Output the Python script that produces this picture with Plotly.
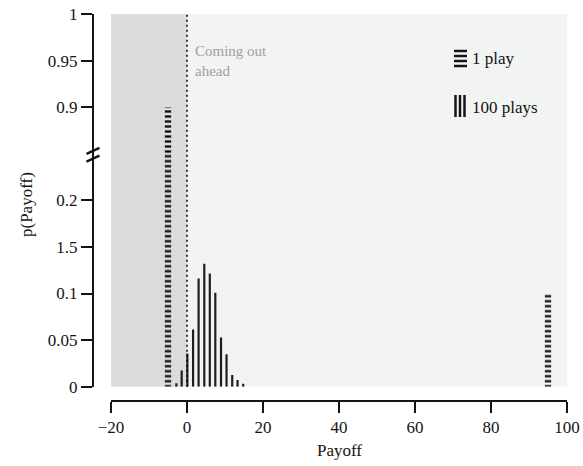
import plotly.graph_objects as go

# ---------------- data ----------------
one_play_x = [-5, 95]
one_play_p = [0.9, 0.1]

hundred_x = [-2.8, -1.4, 0.1, 1.6, 3.05, 4.55, 6.0, 7.45, 8.95, 10.4, 11.9, 13.3, 14.8]
hundred_p = [0.0036, 0.0175, 0.0357, 0.0614, 0.116, 0.132, 0.1215, 0.1007,
             0.0529, 0.0347, 0.0125, 0.0071, 0.0032]

x_ticks = [-20, 0, 20, 40, 60, 80, 100]
x_ticktext = ["\u221220", "0", "20", "40", "60", "80", "100"]
low_ticks = [0, 0.05, 0.1, 0.15, 0.2]
low_ticktext = ["0", "0.05", "0.1", "1.5", "0.2"]
up_ticks = [0.9, 0.95, 1]
up_ticktext = ["0.9", "0.95", "1"]

# ---------------- layout geometry ----------------
W, H = 583, 466
ML, MR, MT, MB = 93, 16, 14, 65
PW, PH = W - ML - MR, H - MT - MB
FONT = "Liberation Serif, Times New Roman, serif"
INK = "#141414"

def px(xp):
    return (xp - ML) / PW

def py(yp):
    return (H - MB - yp) / PH

x_dom0 = px(111)
low_dom = [py(386.7), py(153.7)]
up_dom = [py(153.7), 1.0]

fig = go.Figure()

# 100 plays (thin solid bars)
fig.add_trace(go.Bar(x=hundred_x, y=hundred_p, width=0.58,
                     marker=dict(color="#1e1e1e", line=dict(width=0)),
                     xaxis="x", yaxis="y", showlegend=False))
# 1 play (hatched bars) - lower and upper segments of the broken axis
for ya in ["y", "y2"]:
    fig.add_trace(go.Bar(x=one_play_x, y=one_play_p, width=1.66,
                         marker=dict(color="#0a0a0a", line=dict(width=0),
                                     pattern=dict(shape="-", size=5, solidity=0.45,
                                                  fillmode="replace")),
                         xaxis="x", yaxis=ya, showlegend=False))

shapes = []
# backgrounds (light: coming out ahead, dark: losing side), spanning the break
shapes.append(dict(type="rect", xref="x", yref="paper", x0=0, x1=100,
                   y0=low_dom[0], y1=1, fillcolor="#f2f3f3", line=dict(width=0),
                   layer="below"))
shapes.append(dict(type="rect", xref="x", yref="paper", x0=-20, x1=0,
                   y0=low_dom[0], y1=1, fillcolor="#dcdcdf", line=dict(width=0),
                   layer="below"))
# dotted line at 0
shapes.append(dict(type="line", xref="x", yref="paper", x0=0, x1=0,
                   y0=low_dom[0], y1=1,
                   line=dict(color="black", width=1.5, dash="2px,3px"), layer="above"))

# axis break slashes
for yc in [150.8, 158.6]:
    shapes.append(dict(type="line", xref="paper", yref="paper",
                       x0=px(86.5), x1=px(99.5), y0=py(yc + 3), y1=py(yc - 3),
                       line=dict(color=INK, width=2.5)))

# legend icons
for yy in [51, 56, 61, 66]:
    shapes.append(dict(type="line", xref="paper", yref="paper",
                       x0=px(454), x1=px(467), y0=py(yy), y1=py(yy),
                       line=dict(color=INK, width=2.5)))
for xx in [455.5, 460, 464.5]:
    shapes.append(dict(type="line", xref="paper", yref="paper",
                       x0=px(xx), x1=px(xx), y0=py(95), y1=py(117),
                       line=dict(color=INK, width=2.5)))

annotations = [
    dict(text="Coming out<br>ahead", xref="x", yref="y2", x=1.6, y=0.9495,
         xanchor="left", yanchor="middle", align="left", showarrow=False,
         font=dict(family=FONT, size=15, color="#a0a0a0")),
    dict(text="1 play", xref="paper", yref="paper", x=px(470), y=py(59),
         xanchor="left", yanchor="middle", showarrow=False,
         font=dict(family=FONT, size=17, color=INK)),
    dict(text="100 plays", xref="paper", yref="paper", x=px(470), y=py(107),
         xanchor="left", yanchor="middle", showarrow=False,
         font=dict(family=FONT, size=17, color=INK)),
    dict(text="Payoff", xref="x", yref="paper", x=40, y=py(450),
         xanchor="center", yanchor="middle", showarrow=False,
         font=dict(family=FONT, size=17, color=INK)),
    dict(text="p(Payoff)", xref="paper", yref="paper", x=px(26), y=py(205),
         xanchor="center", yanchor="middle", textangle=-90, showarrow=False,
         font=dict(family=FONT, size=17, color=INK)),
]

tickfont = dict(family=FONT, size=17, color=INK)
axis_common = dict(showgrid=False, zeroline=False, showline=True, linecolor=INK,
                   linewidth=2, ticks="outside", ticklen=11, tickwidth=2,
                   tickcolor=INK, tickfont=tickfont, fixedrange=True,
                   automargin=False)

fig.update_layout(
    width=W, height=H, autosize=False,
    margin=dict(l=ML, r=MR, t=MT, b=MB, pad=0, autoexpand=False),
    paper_bgcolor="white", plot_bgcolor="rgba(0,0,0,0)",
    barmode="overlay", showlegend=False,
    xaxis=dict(domain=[x_dom0, 1], range=[-20, 100], anchor="free", position=0,
               tickvals=x_ticks, ticktext=x_ticktext, **axis_common),
    yaxis=dict(domain=low_dom, range=[0, 0.25], anchor="free", position=0,
               tickvals=low_ticks, ticktext=low_ticktext, **axis_common),
    yaxis2=dict(domain=up_dom, range=[0.85, 1.0], anchor="free", position=0,
                tickvals=up_ticks, ticktext=up_ticktext, **axis_common),
    shapes=shapes, annotations=annotations,
)

fig.write_html("out.html", config={"displayModeBar": False},
               post_script="document.body.style.margin='0';")
